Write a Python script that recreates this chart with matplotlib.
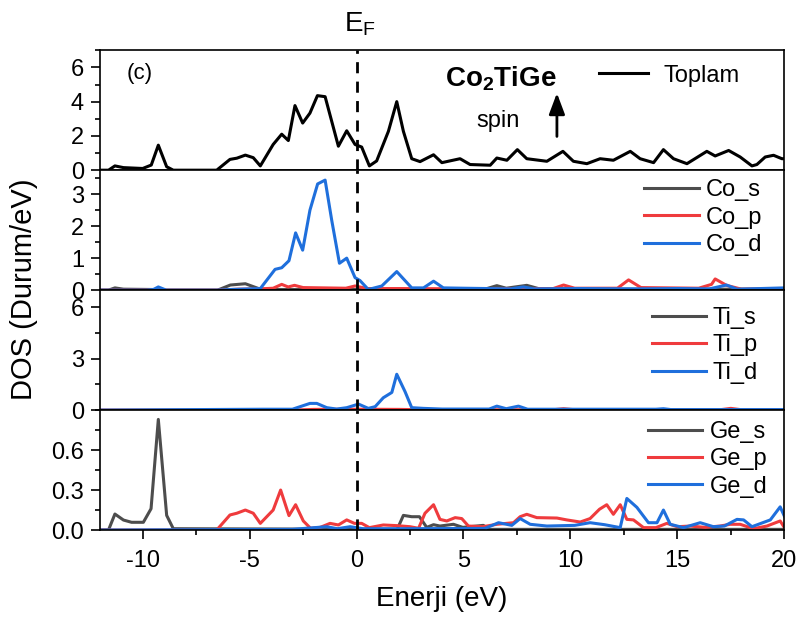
import matplotlib
matplotlib.use("Agg")
import matplotlib.pyplot as plt
from matplotlib.ticker import MultipleLocator, FixedLocator

plt.rcParams['font.family'] = ['Liberation Sans', 'DejaVu Sans']
plt.rcParams['mathtext.fontset'] = 'custom'
plt.rcParams['mathtext.rm'] = 'Liberation Sans'
plt.rcParams['mathtext.bf'] = 'Liberation Sans:bold'

# ---- data (energy in eV, DOS in states/eV) ----
tot_x = [-12, -11.6, -11.3, -10.9, -10.0, -9.6, -9.27, -8.88, -8.57, -6.54, -5.92, -5.6, -5.2,
         -4.83, -4.5, -3.9, -3.5, -3.19, -2.88, -2.52, -2.18, -1.83, -1.47, -0.85, -0.46, -0.07,
         0.24, 0.6, 0.94, 1.49, 1.88, 2.19, 2.58, 2.97, 3.6, 3.99, 4.84, 5.31, 6.25, 6.56, 7.03,
         7.52, 7.96, 8.9, 9.65, 10.14, 10.77, 11.39, 12.01, 12.8, 13.26, 13.89, 14.35, 14.82,
         15.45, 16.38, 16.77, 17.4, 17.94, 18.49, 18.72, 19.11, 19.5, 19.89, 20]
tot_y = [0, 0, 0.25, 0.15, 0.1, 0.3, 1.46, 0.2, 0, 0, 0.63, 0.7, 0.88,
         0.73, 0.25, 1.5, 2.1, 1.73, 3.77, 2.75, 3.33, 4.35, 4.29, 1.4, 2.3, 1.5,
         1.35, 0.25, 0.54, 2.27, 4.0, 2.27, 0.67, 0.5, 0.9, 0.44, 0.67, 0.33, 0.29, 0.71, 0.58,
         1.2, 0.67, 0.52, 1.1, 0.52, 0.38, 0.67, 0.58, 1.1, 0.67, 0.44, 1.2, 0.67,
         0.38, 1.1, 0.83, 1.15, 0.77, 0.25, 0.33, 0.77, 0.87, 0.67, 0.67]

co_s_x = [-12, -11.6, -11.3, -10.9, -9.5, -8.9, -6.5, -5.9, -5.2, -4.5, -3.5, 0, 3, 6.0, 6.56, 7.0, 7.96, 8.5, 12, 20]
co_s_y = [0, 0, 0.07, 0.03, 0.02, 0, 0, 0.16, 0.2, 0.03, 0.02, 0.02, 0.02, 0.03, 0.14, 0.06, 0.15, 0.05, 0.03, 0.03]

co_p_x = [-12, -6.5, -5.5, -4.5, -3.9, -3.5, -3.2, -2.9, -2.5, -1.5, -0.5, -0.07, 0.5, 2, 5, 9.2, 9.68,
          10.2, 12.2, 12.72, 13.3, 16.0, 16.6, 16.77, 17.3, 18, 20]
co_p_y = [0, 0, 0.03, 0.04, 0.06, 0.18, 0.1, 0.15, 0.08, 0.07, 0.06, 0.13, 0.05, 0.05, 0.04, 0.05, 0.16,
          0.06, 0.06, 0.32, 0.08, 0.06, 0.18, 0.35, 0.15, 0.03, 0.04]

co_d_x = [-12, -9.8, -9.5, -9.27, -8.9, -6.54, -5.9, -4.5, -3.81, -3.5, -3.16, -2.85, -2.52, -2.18,
          -1.82, -1.47, -1.16, -0.8, -0.46, -0.07, 0.16, 0.55, 1.18, 1.88, 2.58, 3.13, 3.6, 4.06,
          5.0, 7.2, 7.8, 8.3, 10.5, 13, 15, 16.5, 17.3, 17.8, 20]
co_d_y = [0, 0, 0.02, 0.1, 0, 0, 0.02, 0.05, 0.65, 0.7, 0.92, 1.79, 1.25, 2.5,
          3.32, 3.44, 2.18, 0.84, 1.0, 0.39, 0.3, 0.02, 0.13, 0.58, 0.07, 0.07, 0.28, 0.07,
          0.06, 0.04, 0.1, 0.04, 0.05, 0.04, 0.05, 0.04, 0.16, 0.03, 0.07]

ti_s_x = [-12, 20]
ti_s_y = [0, 0]

ti_p_x = [-12, -3, -2, 0, 2, 3, 9.2, 9.68, 10.2, 17.0, 17.5, 18.0, 20]
ti_p_y = [0, 0, 0.04, 0.05, 0.04, 0.02, 0.02, 0.08, 0.02, 0.02, 0.1, 0.02, 0.02]

ti_d_x = [-12, -4.36, -3.0, -2.18, -1.86, -1.39, -0.93, -0.46, 0.09, 0.55, 0.87, 1.25, 1.65, 1.88,
          2.27, 2.58, 3.13, 4.0, 6.2, 6.56, 7.0, 7.57, 8.0, 14.0, 14.35, 14.7, 20]
ti_d_y = [0, 0.05, 0.05, 0.39, 0.39, 0.14, 0.06, 0.14, 0.35, 0.1, 0.2, 0.72, 1.03, 2.09,
          1.07, 0.14, 0.1, 0.06, 0.06, 0.23, 0.08, 0.23, 0.05, 0.05, 0.08, 0.03, 0.03]

ge_s_x = [-12, -11.6, -11.3, -10.9, -10.52, -9.97, -9.61, -9.27, -8.88, -8.57, 1.9, 2.19, 2.58,
          2.94, 3.28, 3.6, 3.9, 4.53, 4.97, 5.93, 6.2, 20]
ge_s_y = [0, 0, 0.12, 0.075, 0.058, 0.058, 0.16, 0.83, 0.11, 0.01, 0.005, 0.11, 0.1,
          0.1, 0.02, 0.04, 0.03, 0.043, 0.02, 0.035, 0.005, 0.005]

ge_p_x = [-12, -6.54, -5.92, -5.6, -5.2, -4.83, -4.5, -3.9, -3.55, -3.16, -2.85, -2.49, -2.15,
          -1.7, -1.24, -0.85, -0.46, -0.1, 0.24, 0.6, 1.25, 1.88, 2.5, 2.9, 3.2, 3.6, 3.9, 4.22,
          4.61, 4.92, 5.23, 5.9, 6.56, 7.34, 7.65, 7.96, 8.43, 9.37, 9.83, 10.46, 10.92, 11.36,
          11.7, 12.01, 12.33, 12.64, 12.95, 13.42, 14.0, 14.51, 15.0, 15.6, 16.3, 17.0, 17.47,
          17.94, 18.56, 19.19, 19.81, 20]
ge_p_y = [0, 0, 0.113, 0.126, 0.15, 0.126, 0.05, 0.15, 0.30, 0.108, 0.19, 0.068, 0.013,
          0.02, 0.05, 0.038, 0.076, 0.05, 0.05, 0.018, 0.038, 0.033, 0.025, 0.013, 0.126, 0.19, 0.08, 0.068,
          0.093, 0.086, 0.03, 0.025, 0.043, 0.055, 0.1, 0.118, 0.093, 0.09, 0.076, 0.06, 0.086, 0.156,
          0.19, 0.118, 0.19, 0.08, 0.076, 0.018, 0.018, 0.05, 0.025, 0.03, 0.02, 0.03, 0.043,
          0.043, 0.01, 0.03, 0.068, 0.02]

ge_d_x = [-12, -3.0, -1.4, -0.9, -0.3, 0.3, 2.0, 6.0, 6.64, 7.26, 7.65, 8.12, 8.9, 10.2, 10.92,
          11.6, 12.33, 12.64, 13.11, 13.65, 14.05, 14.35, 14.67, 15.29, 16.07, 16.69, 17.2, 17.79,
          18.1, 18.49, 19.35, 19.81, 20]
ge_d_y = [0, 0.005, 0.025, 0.01, 0.025, 0.01, 0.01, 0.012, 0.055, 0.035, 0.086, 0.043, 0.03, 0.035, 0.055,
          0.04, 0.018, 0.237, 0.17, 0.055, 0.055, 0.15, 0.043, 0.018, 0.055, 0.025, 0.03, 0.08,
          0.076, 0.025, 0.076, 0.174, 0.106]

GRAY = '#4d4d4d'
RED = '#ef3b3d'
BLUE = '#1f6fdc'
LW = 2.2
FS = 17

fig = plt.figure(figsize=(8.06, 6.28), dpi=100)
gs = fig.add_gridspec(4, 1, left=0.124, right=0.973, top=0.920, bottom=0.156, hspace=0)
axes = [fig.add_subplot(gs[i]) for i in range(4)]

# panel 1: total
ax = axes[0]
ax.plot(tot_x, tot_y, color='black', lw=LW, label='Toplam')
ax.set_ylim(0, 7)
ax.yaxis.set_major_locator(FixedLocator([0, 2, 4, 6]))
ax.yaxis.set_minor_locator(MultipleLocator(1))
ax.legend(loc='upper right', frameon=False, fontsize=FS, handlelength=2.1, handletextpad=0.65,
          borderpad=0, borderaxespad=0, bbox_to_anchor=(0.935, 0.88))
ax.text(-10.13, 5.66, '(c)', fontsize=16, va='center', ha='center')
ax.text(6.76, 5.35, r'Co$_\mathbf{2}$TiGe', fontsize=20, fontweight='bold', ha='center', va='center')
ax.text(6.62, 2.85, 'spin', fontsize=17, ha='center', va='center')
ax.annotate('', xy=(9.37, 4.5), xytext=(9.37, 1.97),
            arrowprops=dict(arrowstyle='-|>,head_width=0.3,head_length=0.8', color='black',
                            lw=2, mutation_scale=16, shrinkA=0, shrinkB=0))

# panel 2: Co
ax = axes[1]
ax.plot(co_s_x, co_s_y, color=GRAY, lw=LW, label='Co_s')
ax.plot(co_p_x, co_p_y, color=RED, lw=LW, label='Co_p')
ax.plot(co_d_x, co_d_y, color=BLUE, lw=LW, label='Co_d')
ax.set_ylim(0, 3.75)
ax.yaxis.set_major_locator(FixedLocator([0, 1, 2, 3]))
ax.yaxis.set_minor_locator(MultipleLocator(0.5))

# panel 3: Ti
ax = axes[2]
ax.plot(ti_s_x, ti_s_y, color=GRAY, lw=LW, label='Ti_s')
ax.plot(ti_p_x, ti_p_y, color=RED, lw=LW, label='Ti_p')
ax.plot(ti_d_x, ti_d_y, color=BLUE, lw=LW, label='Ti_d')
ax.set_ylim(0, 7)
ax.yaxis.set_major_locator(FixedLocator([0, 3, 6]))
ax.yaxis.set_minor_locator(MultipleLocator(1.5))

# panel 4: Ge
ax = axes[3]
ax.plot(ge_s_x, ge_s_y, color=GRAY, lw=LW, label='Ge_s')
ax.plot(ge_p_x, ge_p_y, color=RED, lw=LW, label='Ge_p')
ax.plot(ge_d_x, ge_d_y, color=BLUE, lw=LW, label='Ge_d')
ax.set_ylim(0, 0.9)
ax.yaxis.set_major_locator(FixedLocator([0, 0.3, 0.6]))
ax.yaxis.set_minor_locator(MultipleLocator(0.15))
ax.set_xlabel('Enerji (eV)', fontsize=20, labelpad=10)

legend_pos = {1: (0.968, 0.925), 2: (0.962, 0.86), 3: (0.975, 0.91)}

for i, ax in enumerate(axes):
    ax.set_xlim(-12, 20)
    ax.axvline(0, color='black', lw=2, ls=(0, (4, 3)))
    ax.xaxis.set_major_locator(MultipleLocator(5))
    ax.xaxis.set_minor_locator(MultipleLocator(2.5))
    ax.tick_params(axis='both', which='major', direction='out', length=6.5, width=1.2,
                   labelsize=FS, pad=5, right=False, top=False)
    ax.tick_params(axis='both', which='minor', direction='out', length=3.6, width=1.2,
                   right=False, top=False)
    for sp in ax.spines.values():
        sp.set_linewidth(1.2)
    if i < 3:
        ax.tick_params(axis='x', which='both', bottom=False, labelbottom=False)
    if i > 0:
        ax.legend(loc='upper right', frameon=False, fontsize=FS, handlelength=2.3,
                  handletextpad=0.3, labelspacing=0.23, borderpad=0, borderaxespad=0,
                  bbox_to_anchor=legend_pos[i])

axes[3].set_xticks([-10, -5, 0, 5, 10, 15, 20])
axes[3].set_xticklabels(['-10', '-5', '0', '5', '10', '15', '20'])
axes[3].tick_params(axis='x', pad=8)

fig.text(0.03, 0.54, 'DOS (Durum/eV)', rotation=90, fontsize=21, ha='center', va='center')
fig.text(0.446, 0.962, r'E$_\mathregular{F}$', fontsize=20, ha='center', va='center')

fig.savefig('out.png', dpi=100)
